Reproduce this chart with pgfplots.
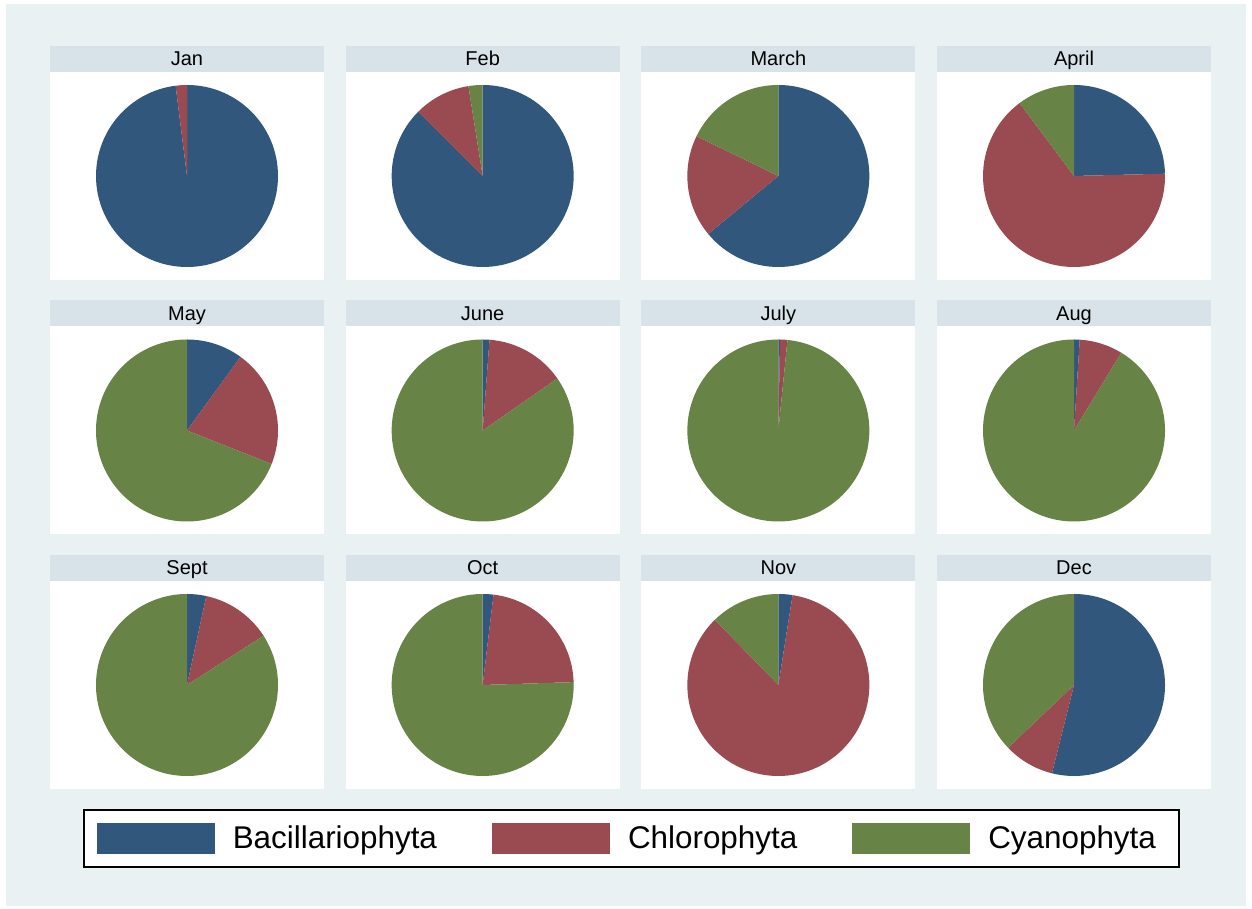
\documentclass[border=0pt]{standalone}
\usepackage{fontspec}
\setmainfont{Liberation Sans}
\usepackage{pgfplots}
\usepackage{pgfplotstable}
\pgfplotsset{compat=1.18}
\definecolor{cB}{RGB}{49,88,124}
\definecolor{cR}{RGB}{154,74,81}
\definecolor{cG}{RGB}{104,131,70}
\definecolor{bgc}{RGB}{234,241,243}
\definecolor{band}{RGB}{216,227,233}

\pgfplotsset{
  panel/.style={
    width=137pt, height=104pt, scale only axis,
    xmin=-137, xmax=137, ymin=-104, ymax=104,
    axis background/.style={fill=white},
    axis line style={draw=none},
    xtick=\empty, ytick=\empty,
    clip=false,
    every axis title/.style={at={(0.5,1)}, anchor=south, fill=band,
      minimum width=137pt, minimum height=13pt, inner sep=0pt,
      text height=7.2pt, text depth=0pt, font=\fontsize{10}{12}\selectfont},
    legend columns=3,
    legend image code/.code={\fill[##1] (0pt,-7.75pt) rectangle (59pt,7.75pt);},
    legend style={at={(-3.1168,-0.3798)}, anchor=south west, draw=black,
      line width=0.8pt, fill=white, inner xsep=6.5pt, inner ysep=6.5pt,
      font=\fontsize{15.7}{18}\selectfont, nodes={inner sep=0pt},
      /tikz/every odd column/.append style={column sep=9pt},
      /tikz/every even column/.append style={column sep=27.5pt}},
  }
}

% shares (percent) of each phylum per month
\pgfplotstableread{
month bac chl cya
Jan   98    2    0
Feb   87.5 10    2.5
March 64   18.2 17.8
April 24.6 65.2 10.2
May   10   21   69
June  1.2  14.1 84.7
July  0.3  1.3  98.4
Aug   1    7.7  91.3
Sept  3.4  12.5 84.1
Oct   1.9  22.6 75.5
Nov   2.5  85.2 12.3
Dec   53.9 9    37.1
}\piedata

\begin{document}
\begin{tikzpicture}[x=0.5pt,y=0.5pt]
\fill[white] (0,0) rectangle (1252,909);
\fill[bgc] (6,3) rectangle (1246,905);
\foreach \i in {0,...,11}{
  \pgfmathtruncatemacro\pcol{mod(\i,4)}
  \pgfmathtruncatemacro\prow{int(\i/4)}
  \pgfmathsetmacro\xl{50+295.67*\pcol}
  \pgfmathsetmacro\yb{909-280-254.5*\prow}
  \pgfplotstablegetelem{\i}{month}\of\piedata \let\mname\pgfplotsretval
  \pgfplotstablegetelem{\i}{bac}\of\piedata \let\vb\pgfplotsretval
  \pgfplotstablegetelem{\i}{chl}\of\piedata \let\vr\pgfplotsretval
  \pgfplotstablegetelem{\i}{cya}\of\piedata \let\vg\pgfplotsretval
  \begin{axis}[panel, at={(\xl,\yb)}, anchor=south west, title=\mname]
    \fill[cB] (axis cs:0,0) -- ++(90:45.5pt)
      arc[start angle=90, delta angle={-3.6*\vb}, radius=45.5pt] -- cycle;
    \fill[cR] (axis cs:0,0) -- ++({90-3.6*\vb}:45.5pt)
      arc[start angle={90-3.6*\vb}, delta angle={-3.6*\vr}, radius=45.5pt] -- cycle;
    \fill[cG] (axis cs:0,0) -- ++({90-3.6*(\vb+\vr)}:45.5pt)
      arc[start angle={90-3.6*(\vb+\vr)}, delta angle={-3.6*\vg}, radius=45.5pt] -- cycle;
    \ifnum\i=11
      \addlegendimage{fill=cB, draw=none}
      \addlegendentry{Bacillariophyta}
      \addlegendimage{fill=cR, draw=none}
      \addlegendentry{Chlorophyta}
      \addlegendimage{fill=cG, draw=none}
      \addlegendentry{Cyanophyta\rule{5pt}{0pt}}
    \fi
  \end{axis}
}
\end{tikzpicture}
\end{document}
